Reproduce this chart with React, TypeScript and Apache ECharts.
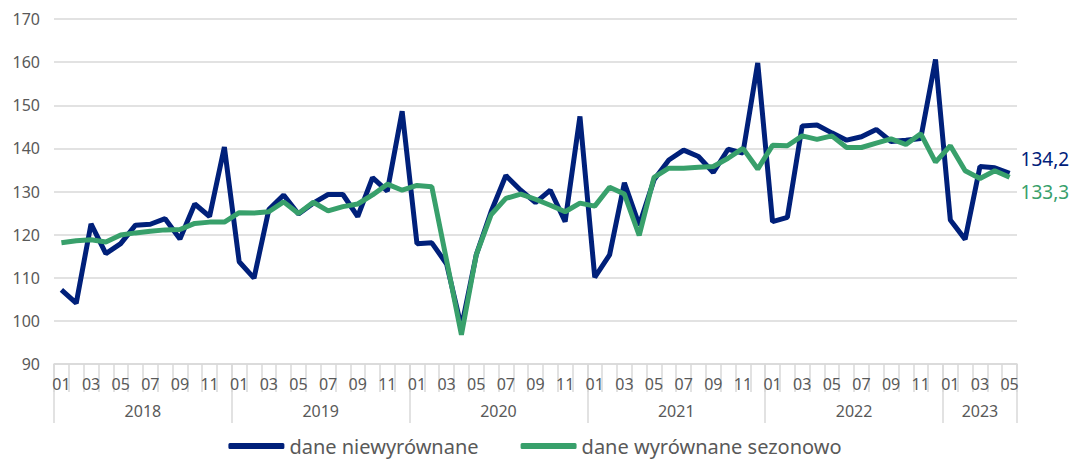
import React, { useEffect, useRef } from "react";
import * as echarts from "echarts";

const years = ["2018", "2019", "2020", "2021", "2022", "2023"];
const monthsPerYear = [12, 12, 12, 12, 12, 5];
const monthLabels = ["01", "02", "03", "04", "05", "06", "07", "08", "09", "10", "11", "12"];

const seriesNames = ["dane niewyrównane", "dane wyrównane sezonowo"];

const unadjusted = [
  107.2, 104.1, 122.5, 115.6, 117.9, 122.2, 122.4, 123.7, 119.0, 127.1, 124.2, 140.3,
  113.7, 109.9, 125.8, 129.2, 124.8, 127.3, 129.3, 129.3, 124.2, 133.2, 130.1, 148.6,
  117.9, 118.1, 113.2, 98.5, 115.3, 125.3, 133.7, 130.3, 127.4, 130.3, 123.0, 147.4,
  110.1, 115.3, 132.0, 122.2, 132.7, 137.3, 139.6, 138.1, 134.4, 139.8, 138.9, 159.8,
  123.0, 124.0, 145.2, 145.4, 143.6, 141.9, 142.7, 144.4, 141.6, 141.9, 142.3, 160.6,
  123.4, 118.9, 135.8, 135.5, 134.2,
];

const seasonallyAdjusted = [
  118.1, 118.6, 118.8, 118.3, 119.9, 120.4, 120.8, 121.1, 121.2, 122.6, 122.9, 122.9,
  125.1, 125.0, 125.3, 127.6, 124.9, 127.5, 125.5, 126.5, 127.1, 129.2, 131.7, 130.3,
  131.4, 131.1, 114.0, 96.8, 115.3, 124.6, 128.4, 129.4, 128.2, 126.8, 125.3, 127.3,
  126.6, 131.0, 129.4, 119.8, 133.3, 135.4, 135.4, 135.6, 135.8, 137.7, 140.0, 135.2,
  140.7, 140.6, 142.9, 142.1, 142.9, 140.2, 140.2, 141.2, 142.2, 140.9, 143.4, 136.8,
  140.6, 134.8, 133.0, 134.8, 133.3,
];

const yMin = 90;
const yMax = 170;
const yStep = 10;

export default function App() {
  const ref = useRef<HTMLDivElement>(null);

  useEffect(() => {
    if (!ref.current) return;
    const chart = echarts.init(ref.current, undefined, { renderer: "svg" });

    const categories: string[] = [];
    years.forEach((y, yi) => {
      for (let m = 0; m < monthsPerYear[yi]; m++) categories.push(y + "-" + monthLabels[m]);
    });
    const total = categories.length;

    const boundaries: number[] = [0];
    const centers: number[] = [];
    let acc = 0;
    monthsPerYear.forEach((n) => {
      centers.push(acc + n / 2);
      acc += n;
      boundaries.push(acc);
    });

    const font = "'Noto Sans', sans-serif";
    const gray = "#595959";
    const lineGray = "#d9d9d9";
    const navy = "#00207A";
    const green = "#38A06B";

    const fmt = (v: number) => v.toFixed(1).replace(".", ",");

    chart.setOption({
      animation: false,
      textStyle: { fontFamily: font },
      grid: { left: 54, right: 53, top: 19, bottom: 97 },
      legend: {
        bottom: 0,
        left: "center",
        itemWidth: 56,
        itemHeight: 6,
        itemGap: 42,
        icon: "roundRect",
        textStyle: { fontSize: 20, color: gray, fontFamily: font },
        data: seriesNames,
      },
      xAxis: [
        {
          type: "category",
          data: categories,
          boundaryGap: true,
          axisLine: { show: true, lineStyle: { color: lineGray, width: 1.5 } },
          axisTick: { show: true, interval: 0, length: 28, lineStyle: { color: lineGray, width: 1.5 } },
          axisLabel: {
            interval: 1,
            margin: 12,
            fontSize: 16,
            color: gray,
            fontFamily: font,
            formatter: (v: string) => v.split("-")[1],
          },
          splitLine: { show: false },
        },
        {
          type: "value",
          position: "bottom",
          min: 0,
          max: total,
          axisLine: { show: false },
          splitLine: { show: false },
          axisTick: {
            show: true,
            length: 59,
            customValues: boundaries,
            lineStyle: { color: lineGray, width: 1.5 },
          },
          axisLabel: {
            show: true,
            margin: 39,
            fontSize: 16,
            color: gray,
            fontFamily: font,
            customValues: centers,
            formatter: (v: number) => {
              const idx = centers.findIndex((c) => Math.abs(c - v) < 0.01);
              return idx >= 0 ? years[idx] : "";
            },
          },
        },
      ],
      yAxis: {
        type: "value",
        min: yMin,
        max: yMax,
        interval: yStep,
        axisLine: { show: false },
        axisTick: { show: false },
        axisLabel: { fontSize: 16, color: gray, margin: 14, fontFamily: font },
        splitLine: { lineStyle: { color: lineGray, width: 1.5 } },
      },
      series: [
        {
          name: seriesNames[0],
          type: "line",
          xAxisIndex: 0,
          data: unadjusted,
          symbol: "none",
          color: navy,
          lineStyle: { color: navy, width: 5 },
          z: 2,
          endLabel: {
            show: true,
            formatter: (p: any) => fmt(p.value),
            color: navy,
            fontSize: 19,
            fontFamily: font,
            distance: 11,
            offset: [0, -14],
          },
        },
        {
          name: seriesNames[1],
          type: "line",
          xAxisIndex: 0,
          data: seasonallyAdjusted,
          symbol: "none",
          color: green,
          lineStyle: { color: green, width: 5 },
          z: 3,
          endLabel: {
            show: true,
            formatter: (p: any) => fmt(p.value),
            color: green,
            fontSize: 19,
            fontFamily: font,
            distance: 11,
            offset: [0, 15],
          },
        },
      ],
    });

    return () => chart.dispose();
  }, []);

  return (
    <div
      ref={ref}
      style={{ position: "fixed", left: 0, top: 0, width: 1070, height: 461, background: "#fff" }}
    />
  );
}
